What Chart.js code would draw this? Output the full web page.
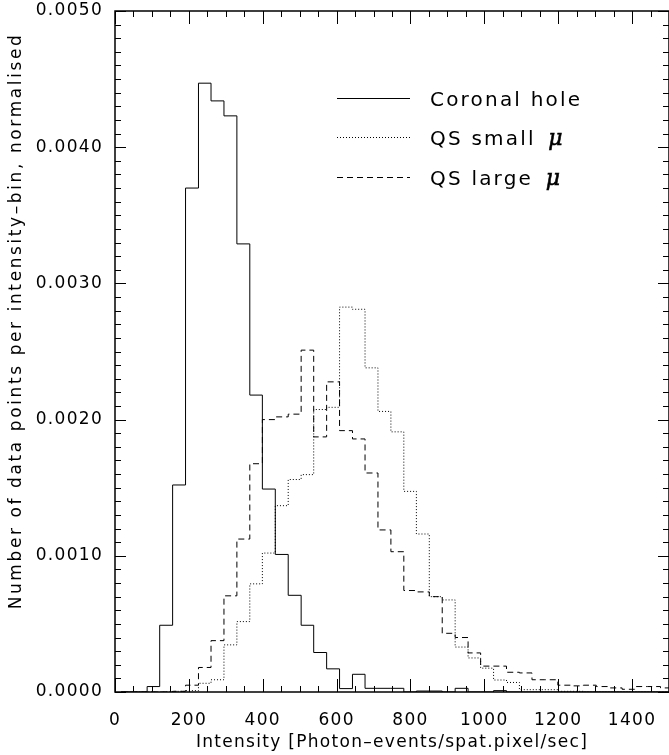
<!DOCTYPE html>
<html>
<head>
<meta charset="utf-8">
<script src="https://cdn.jsdelivr.net/npm/chart.js@4.4.0/dist/chart.umd.min.js"></script>
<style>
  html, body { margin: 0; padding: 0; background: #fff; }
</style>
</head>
<body>
<canvas id="histChart" width="669" height="755"></canvas>
<script>
(function () {
  "use strict";

  // bin edges (intensity) and normalised counts per bin
  const binEdges = [17, 52, 87, 121, 156, 191, 226, 260, 295, 330, 365, 399, 434, 469, 504,
    538, 573, 608, 643, 677, 712, 747, 782, 816, 851, 886, 921, 956, 990, 1025, 1060,
    1095, 1129, 1164, 1199, 1234, 1268, 1303, 1338, 1373, 1407, 1442, 1477, 1512];

  const coronalHole = [0, 0, 0.00004, 0.00049, 0.00152, 0.00370, 0.00447, 0.00434, 0.00423,
    0.00329, 0.00218, 0.00149, 0.00101, 0.00071, 0.00049, 0.00029, 0.00017, 0.000025,
    0.00013, 0.000027, 0.000027, 0.000027, 0, 0.000007, 0.000007, 0, 0.000027, 0, 0,
    0.00001, 0, 0, 0, 0, 0, 0, 0, 0, 0, 0, 0, 0, 0];

  const qsSmall = [0, 0, 0, 0, 0.000005, 0.00001, 0.000064, 0.00009, 0.000346, 0.000517,
    0.000794, 0.00102, 0.001368, 0.00156, 0.001596, 0.002074, 0.00209, 0.002826, 0.00281,
    0.00238, 0.00206, 0.00191, 0.001473, 0.00116, 0.00070, 0.000676, 0.00033, 0.00025,
    0.000175, 0.000088, 0.00007, 0.000017, 0.000017, 0.000017, 0.000005, 0.000005,
    0, 0, 0, 0, 0, 0, 0];

  const qsLarge = [0, 0, 0, 0, 0.000005, 0.00005, 0.00018, 0.000377, 0.000706, 0.001123,
    0.001676, 0.00200, 0.00202, 0.00204, 0.00251, 0.001873, 0.002277, 0.001919, 0.001858,
    0.001608, 0.00119, 0.00103, 0.000745, 0.000735, 0.00070, 0.000431, 0.00040, 0.000287,
    0.00019, 0.00019, 0.000145, 0.00014, 0.00009, 0.00009, 0.00005, 0.000045, 0.00005,
    0.00004, 0.00003, 0.00002, 0.00004, 0.00004, 0.00003];

  const seriesLabels = ['Coronal hole', 'QS small ', 'QS large '];
  const xTitle = 'Intensity [Photon\u2013events/spat.pixel/sec]';
  const yTitle = 'Number of data points per intensity\u2013bin, normalised';

  const FONT = "'DejaVu Sans', sans-serif";
  Chart.defaults.font.family = FONT;
  Chart.defaults.color = '#000';

  // histogram outline: one point per left edge, plus the closing right edge
  function toSteps(vals) {
    const pts = vals.map(function (v, i) { return { x: binEdges[i], y: v }; });
    pts.push({ x: binEdges[vals.length], y: vals[vals.length - 1] });
    return pts;
  }

  // inward ticks on all four sides + the frame
  const boxTicks = {
    id: 'boxTicks',
    afterDatasetsDraw(chart) {
      const ctx = chart.ctx, a = chart.chartArea;
      const x = chart.scales.x, y = chart.scales.y;
      ctx.save();
      ctx.strokeStyle = '#000';
      ctx.lineWidth = 1;
      ctx.beginPath();
      for (let v = 0; v <= 1500; v += 50) {
        const px = Math.round(x.getPixelForValue(v)) + 0.5;
        const len = v % 200 === 0 ? 13 : 6;
        ctx.moveTo(px, a.bottom); ctx.lineTo(px, a.bottom - len);
        ctx.moveTo(px, a.top); ctx.lineTo(px, a.top + len);
      }
      for (let i = 0; i <= 50; i++) {
        const py = Math.round(y.getPixelForValue(i / 10000)) + 0.5;
        const len = i % 10 === 0 ? 11 : 6;
        ctx.moveTo(a.left, py); ctx.lineTo(a.left + len, py);
        ctx.moveTo(a.right, py); ctx.lineTo(a.right - len, py);
      }
      ctx.stroke();
      ctx.lineWidth = 1.5;
      ctx.strokeRect(a.left, a.top, a.right - a.left, a.bottom - a.top);
      ctx.restore();
    }
  };

  // legend in the upper right and the rotated y title
  const annotate = {
    id: 'annotate',
    beforeDraw(chart) {
      chart.ctx.letterSpacing = '1.3px';
    },
    afterDraw(chart) {
      const ctx = chart.ctx;
      const rowsY = [98, 137, 177];
      ctx.save();
      chart.data.datasets.forEach(function (ds, i) {
        const ly = rowsY[i] + 0.5;
        ctx.strokeStyle = '#000';
        ctx.lineWidth = 1;
        ctx.setLineDash(ds.borderDash || []);
        ctx.beginPath();
        ctx.moveTo(337, ly);
        ctx.lineTo(410, ly);
        ctx.stroke();
        ctx.setLineDash([]);
        ctx.letterSpacing = '2.2px';
        ctx.font = '20px ' + FONT;
        ctx.fillStyle = '#000';
        ctx.textBaseline = 'alphabetic';
        ctx.textAlign = 'left';
        ctx.fillText(seriesLabels[i], 430, rowsY[i] + 8);
        if (i > 0) {
          const w = ctx.measureText(seriesLabels[i]).width;
          ctx.letterSpacing = '0px';
          ctx.font = 'italic 22px "DejaVu Serif", serif';
          ctx.lineWidth = 0.6;
          ctx.strokeStyle = '#000';
          ctx.fillText('\u03bc', 430 + w + 4, rowsY[i] + 8);
          ctx.strokeText('\u03bc', 430 + w + 4, rowsY[i] + 8);
        }
      });
      ctx.letterSpacing = '2.6px';
      ctx.font = '17px ' + FONT;
      ctx.translate(17, 321);
      ctx.rotate(-Math.PI / 2);
      ctx.textAlign = 'center';
      ctx.textBaseline = 'middle';
      ctx.fillText(yTitle, 0, 0);
      ctx.restore();
    }
  };

  const lineStyle = {
    borderColor: '#000',
    borderWidth: 1,
    pointRadius: 0,
    fill: false,
    stepped: 'before'
  };

  new Chart(document.getElementById('histChart'), {
    type: 'line',
    data: {
      datasets: [
        Object.assign({ label: seriesLabels[0], data: toSteps(coronalHole) }, lineStyle),
        Object.assign({ label: seriesLabels[1], data: toSteps(qsSmall), borderDash: [1, 2] }, lineStyle),
        Object.assign({ label: seriesLabels[2], data: toSteps(qsLarge), borderDash: [6, 4] }, lineStyle)
      ]
    },
    options: {
      responsive: false,
      animation: false,
      devicePixelRatio: 1,
      layout: { padding: { top: 11, right: 0, bottom: 0, left: 0 } },
      plugins: {
        legend: { display: false },
        tooltip: { enabled: false }
      },
      scales: {
        x: {
          type: 'linear',
          min: 0,
          max: 1500,
          grid: { display: false },
          border: { display: false },
          ticks: {
            stepSize: 200,
            includeBounds: false,
            padding: 10,
            font: { size: 17 },
            maxRotation: 0,
            autoSkip: false,
            callback: function (v) { return String(v); }
          },
          afterBuildTicks: function (s) {
            s.ticks = s.ticks.filter(function (t) { return t.value % 200 === 0; });
          },
          afterFit: function (s) {
            s.height = 63;
            s.paddingLeft = 0;
            s.paddingRight = 0;
          },
          title: {
            display: true,
            text: xTitle,
            font: { size: 17 },
            padding: { top: 0, bottom: 2 }
          }
        },
        y: {
          min: 0,
          max: 0.005,
          grid: { display: false },
          border: { display: false },
          ticks: {
            stepSize: 0.001,
            padding: 4,
            font: { size: 17 },
            callback: function (v) { return v.toFixed(4); }
          },
          afterFit: function (s) {
            s.width = 115;
            s.paddingTop = 0;
            s.paddingBottom = 0;
          }
        }
      }
    },
    plugins: [boxTicks, annotate]
  });
})();
</script>
</body>
</html>
